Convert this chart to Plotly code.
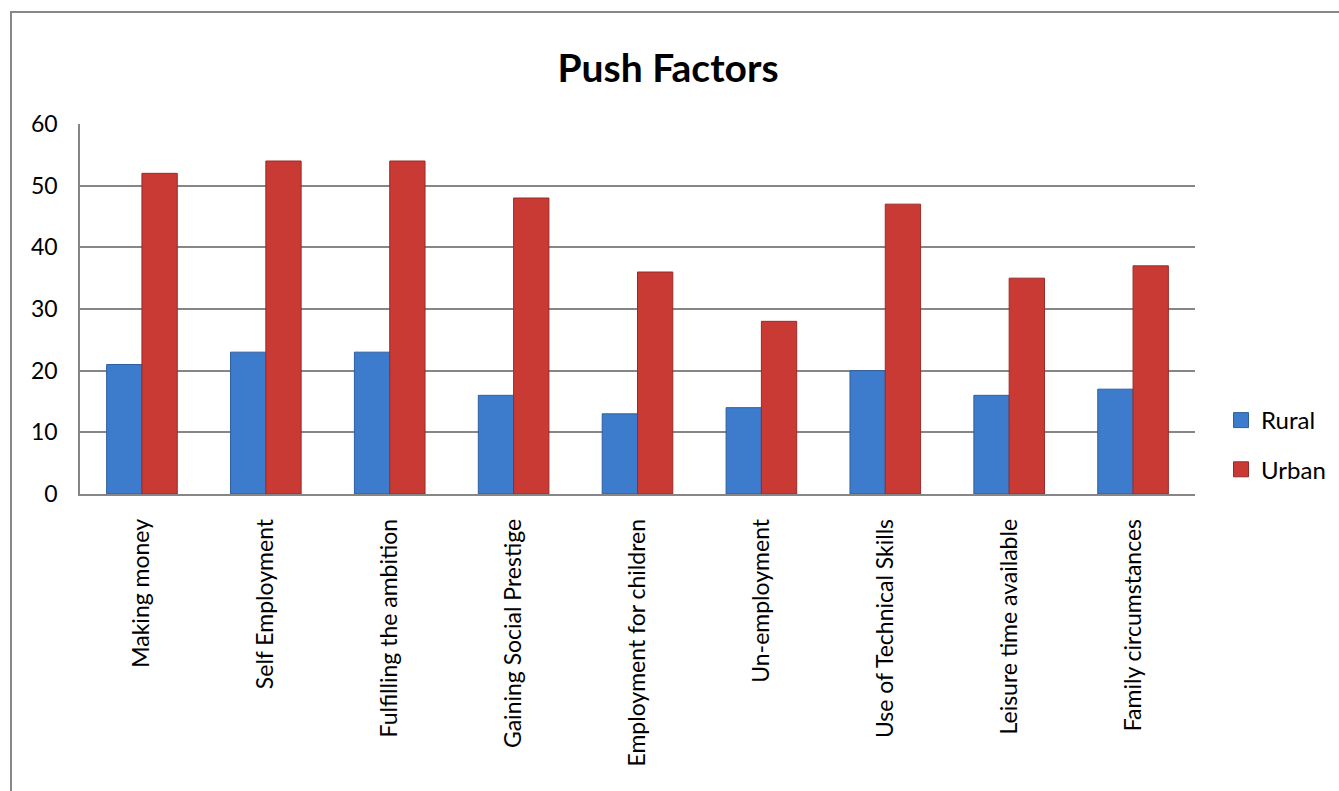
import plotly.graph_objects as go

categories = ["Making money", "Self Employment", "Fulfilling the ambition",
              "Gaining Social Prestige", "Employment for children", "Un-employment",
              "Use of Technical Skills", "Leisure time available", "Family circumstances"]
rural = [21, 23, 23, 16, 13, 14, 20, 16, 17]
urban = [52, 54, 54, 48, 36, 28, 47, 35, 37]
y_ticks = [0, 10, 20, 30, 40, 50, 60]
series_names = ["Rural", "Urban"]
series_colors = ["#3d7ccc", "#c93a35"]
edge_colors = ["#2e5f9e", "#9a2a27"]

FONT = "Lato, Calibri, Carlito, sans-serif"

fig = go.Figure()
for name, vals, col, edge in zip(series_names, [rural, urban], series_colors, edge_colors):
    fig.add_trace(go.Bar(name=name, x=categories, y=vals, showlegend=False,
                         marker=dict(color=col, line=dict(color=edge, width=1))))
# legend proxies with larger square swatches
for name, col, edge in zip(series_names, series_colors, edge_colors):
    fig.add_trace(go.Scatter(name=name, x=[None], y=[None], mode="markers",
                             legendgroup=name,
                             marker=dict(symbol="square", size=15, color=col,
                                         line=dict(color=edge, width=1))))

W, H = 1339, 791
L, R, T, B = 80, 1195, 124, 494
pw, ph = R - L, B - T

fig.update_layout(
    width=W, height=H,
    margin=dict(l=L, r=W - R, t=T, b=H - B, autoexpand=False),
    paper_bgcolor="white", plot_bgcolor="white",
    barmode="group", bargap=0.43, bargroupgap=0,
    font=dict(family=FONT, size=22, color="black"),
    title=dict(text="<b>Push Factors</b>", x=668 / W, xanchor="center",
               y=1 - 68 / H, yanchor="middle", yref="container",
               font=dict(family=FONT, size=39, color="black")),
    showlegend=True,
    legend=dict(x=(1221 - L) / pw, xanchor="left", y=(B - 445) / ph, yanchor="middle",
                font=dict(family=FONT, size=24, color="black"),
                itemwidth=30, tracegroupgap=15, bgcolor="rgba(0,0,0,0)"),
    xaxis=dict(tickangle=-90, showline=True, linecolor="#868686", linewidth=1.5,
               ticks="", ticklabelstandoff=14,
               tickfont=dict(family=FONT, size=23, color="black"),
               showgrid=False, fixedrange=True),
    yaxis=dict(range=[0, 60], tickvals=y_ticks, showgrid=True, gridcolor="#868686",
               gridwidth=1.5, showline=True, linecolor="#868686", linewidth=1.5,
               ticks="", ticklabelstandoff=16, zeroline=False,
               tickfont=dict(family=FONT, size=23, color="black"), fixedrange=True),
    shapes=[dict(type="rect", xref="paper", yref="paper",
                 x0=(11 - L) / pw, x1=(1400 - L) / pw,
                 y0=(B - 900) / ph, y1=(B - 12) / ph,
                 line=dict(color="#878787", width=2), fillcolor="rgba(0,0,0,0)",
                 layer="below")],
)

fig.write_html("out.html")
